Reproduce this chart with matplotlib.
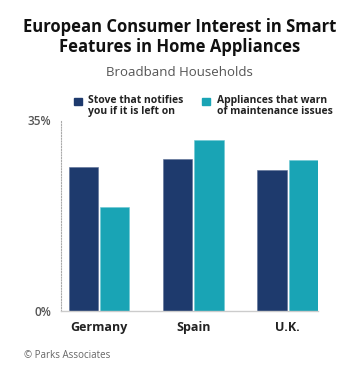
import numpy as np
import matplotlib.pyplot as plt

plt.rcParams['font.family'] = ['Open Sans', 'DejaVu Sans']

kraje = ["Germany", "Spain", "U.K."]
kuchenka = [26.3, 27.9, 25.8]      # Stove that notifies you if it is left on
urzadzenia = [19.0, 31.3, 27.6]    # Appliances that warn of maintenance issues
serie = ["Stove that notifies\nyou if it is left on",
         "Appliances that warn\nof maintenance issues"]
kolory = ["#1e3a6d", "#19a4b5"]

fig = plt.figure(figsize=(3.59, 3.77), dpi=100)
ax = fig.add_axes([0.169, 0.175, 0.716, 0.507])

x = np.arange(len(kraje))
szer = 0.31
ax.bar(x - szer / 2 - 0.01, kuchenka, szer, color=kolory[0], edgecolor="#5a6f96", linewidth=0.4)
ax.bar(x + szer / 2 + 0.01, urzadzenia, szer, color=kolory[1], edgecolor="#6cc8d3", linewidth=0.4)

ax.set_xlim(-0.41, 2.32)
ax.set_ylim(0, 35)
ax.set_yticks([0, 35])
ax.set_yticklabels(["0%", "35%"], fontsize=8.5, color="#555555", fontweight="semibold")
ax.set_xticks(x)
ax.set_xticklabels(kraje, fontsize=9, fontweight="bold", color="#222222")
ax.tick_params(axis="both", length=0)
ax.tick_params(axis="x", pad=7)
ax.tick_params(axis="y", pad=7)

for s in ["top", "right"]:
    ax.spines[s].set_visible(False)
ax.spines["left"].set_linestyle((0, (1, 1.5)))
ax.spines["left"].set_color("#aaaaaa")
ax.spines["left"].set_linewidth(0.8)
ax.spines["bottom"].set_color("#cccccc")
ax.spines["bottom"].set_linewidth(1.0)

# tytul i podtytul
fig.text(0.5, 1 - 37 / 377, "European Consumer Interest in Smart\nFeatures in Home Appliances",
         ha="center", va="center", fontsize=12, fontweight="bold", color="#111111",
         linespacing=1.15)
fig.text(0.5, 1 - 73 / 377, "Broadband Households", ha="center", va="center",
         fontsize=9.5, color="#555555")

# legenda recznie
for i, (lx, tx) in enumerate([(74, 88), (202, 217)]):
    fig.patches.append(plt.Rectangle((lx / 359, 1 - 105 / 377), 8 / 359, 7 / 377,
                                     transform=fig.transFigure, color=kolory[i]))
    fig.text(tx / 359, 1 - 106 / 377, serie[i], ha="left", va="center",
             fontsize=7.5, fontweight="bold", color="#222222", linespacing=0.95)

fig.text(24 / 359, 1 - 355 / 377, "© Parks Associates", ha="left", va="center",
         fontsize=7, color="#666666")

fig.savefig("out.png", dpi=100)
